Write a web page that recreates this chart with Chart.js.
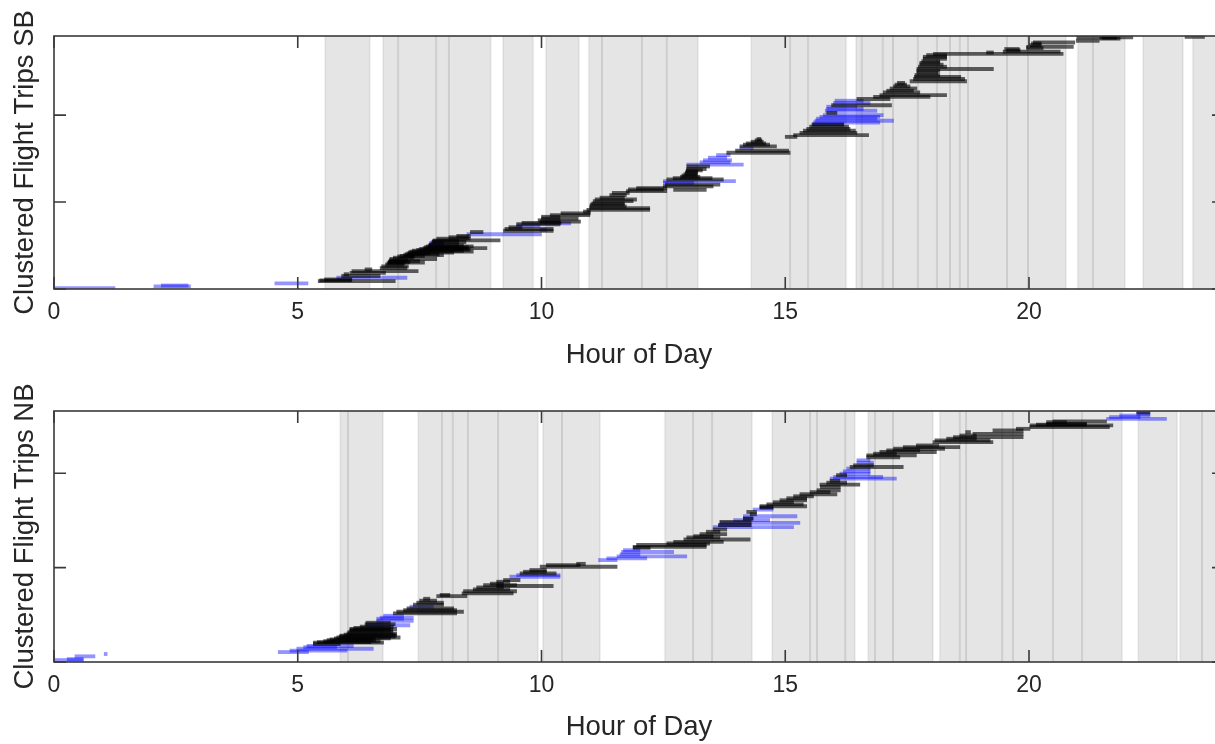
<!DOCTYPE html>
<html>
<head>
<meta charset="utf-8">
<script src="https://cdn.jsdelivr.net/npm/chart.js@4.4.0/dist/chart.umd.min.js"></script>
<style>
  html, body { margin: 0; padding: 0; background: #fff; overflow: hidden; width: 1215px; height: 744px; }
  canvas { position: absolute; left: 0; }
  #sbChart { top: 0; }
  #nbChart { top: 372px; }
</style>
</head>
<body>
<canvas id="sbChart" width="1232" height="372"></canvas>
<canvas id="nbChart" width="1232" height="372"></canvas>
<script>
// Tick values for both panels.
var xTicks = [0, 5, 10, 15, 20];
var sbYTicks = [0, 100, 200];
var nbYTicks = [0, 100, 200];

// Trip segments as [trip index, start hour, end hour].
var sbBlack = [
  [9, 5.42, 7.0], [10, 5.45, 6.1], [11, 5.55, 6.11], [15, 5.9, 6.69], [17, 5.95, 6.05],
  [18.5, 6.07, 6.8], [20.5, 6.11, 7.47], [22.5, 6.38, 6.52], [24, 6.69, 7.24], [26, 6.72, 7.27],
  [28, 6.8, 7.17], [29.5, 6.83, 7.2], [30.5, 6.85, 7.6], [31, 6.86, 7.3], [32, 6.87, 7.5], [33, 6.88, 7.25],
  [34.5, 6.89, 7.85], [36, 6.96, 7.37], [37.5, 7.05, 7.4], [38, 7.1, 7.6], [39, 7.17, 7.99], [40, 7.2, 7.9],
  [41, 7.24, 7.71], [42, 7.27, 8.2], [43, 7.3, 8.6], [44, 7.35, 8.4], [45, 7.44, 8.54], [46, 7.5, 8.5],
  [47, 7.57, 8.88], [48, 7.6, 8.5], [49, 7.64, 8.6], [50, 7.68, 8.4], [51, 7.7, 8.3], [54, 7.75, 8.45],
  [55, 7.76, 8.3], [56, 7.78, 9.15], [58, 7.85, 8.54], [59.5, 8.1, 8.5], [61, 8.26, 8.54], [65.5, 8.54, 8.8],
  [67, 9.22, 10.24], [69, 9.25, 10.24], [71, 9.33, 9.6], [74.5, 9.49, 10.38], [76, 9.6, 10.4],
  [77.5, 9.97, 10.8], [79, 9.93, 10.38], [81, 10.0, 10.75], [83, 10.0, 10.38], [85, 10.18, 10.99],
  [87, 10.4, 11.0],
  [89, 10.86, 11.0], [91, 10.93, 12.22], [93, 10.99, 12.22], [95, 10.99, 11.74], [97, 11.0, 11.7],
  [98.5, 11.03, 11.7], [101, 11.06, 11.88], [103, 11.1, 11.95], [105, 11.2, 11.7], [108, 11.4, 11.74],
  [110.5, 11.45, 11.8], [112.5, 11.74, 12.57], [114.5, 11.78, 12.5], [116, 11.95, 12.57],
  [114, 12.71, 13.38], [118, 12.5, 13.52], [120, 12.54, 13.66], [126, 12.57, 13.73], [127.5, 12.7, 13.5],
  [129, 12.85, 13.25], [130.5, 12.88, 13.2], [132, 12.92, 13.18], [133.5, 12.95, 13.2], [135, 12.96, 13.2],
  [136.5, 12.97, 13.3], [138, 12.98, 13.38], [141, 12.98, 13.45],
  [156.7, 13.8, 15.1], [159, 13.98, 15.07], [164, 14.07, 14.82], [166, 14.14, 14.68], [167.4, 14.2, 14.6],
  [169.3, 14.3, 14.55], [171, 14.38, 14.52], [172.5, 14.42, 14.5],
  [175, 15.0, 15.24], [177, 15.17, 16.71], [179.5, 15.3, 16.47], [182, 15.37, 16.44], [184, 15.44, 16.33],
  [186.6, 15.5, 16.3], [189, 15.55, 16.2], [202.5, 15.85, 16.06], [211.4, 15.95, 17.18], [218.5, 16.47, 17.15],
  [221, 16.81, 17.97], [223, 16.94, 18.31], [226, 17.01, 17.76], [228, 17.08, 17.63], [230.6, 17.15, 17.7],
  [233, 17.22, 17.56], [235, 17.25, 17.49], [237, 17.3, 17.45],
  [239, 17.56, 18.72], [241.6, 17.63, 18.68], [244, 17.65, 18.6], [246, 17.66, 18.17], [248.5, 17.7, 18.13],
  [251, 17.7, 18.17], [253, 17.7, 19.27], [255.6, 17.73, 18.31], [258, 17.76, 18.24], [260, 17.76, 18.17],
  [262, 17.8, 18.17], [264.8, 17.83, 18.31], [267, 17.83, 18.31], [269, 17.9, 18.31], [270.5, 18.04, 20.7],
  [272, 19.13, 19.27], [273, 19.47, 20.64], [274.5, 19.54, 19.82], [276, 19.5, 19.8], [277, 19.95, 20.29],
  [278.5, 19.95, 20.91], [280.5, 20.0, 20.25], [282.4, 20.05, 20.25], [283.5, 20.09, 20.94], [285.5, 20.97, 21.44],
  [288, 21.45, 21.87], [289, 21.5, 21.8], [289.5, 20.98, 22.13], [290, 23.2, 23.6]
];

var sbBlue = [
  [1, 0.0, 1.25], [3, 2.05, 2.8], [4, 2.2, 2.75], [6.5, 4.53, 5.21], [13, 5.8, 7.24],
  [52, 7.71, 8.0], [53, 7.71, 7.99], [63, 8.47, 10.0], [68, 9.97, 10.1], [73, 9.49, 9.97],
  [75.5, 9.97, 10.6], [122, 12.5, 13.12], [124, 12.5, 13.98], [143, 12.98, 14.14], [145.7, 13.25, 13.87],
  [148, 13.32, 13.9], [151, 13.42, 13.8], [154, 13.59, 13.87], [162, 14.07, 14.34],
  [189.5, 15.55, 16.2], [191.5, 15.58, 16.94], [193.5, 15.61, 17.22], [196, 15.64, 16.88], [198, 15.71, 16.94],
  [200, 15.78, 17.01], [205, 15.82, 16.88], [207, 15.85, 16.6], [209.6, 15.85, 16.47], [214, 15.99, 16.74],
  [216.5, 16.02, 16.6]
];

var nbBlack = [
  [19, 5.32, 5.87], [20.5, 5.32, 6.76], [21, 5.4, 6.5], [22, 5.53, 6.69], [23, 5.6, 6.6], [24, 5.66, 6.55],
  [25, 5.75, 6.9], [26, 5.8, 7.1], [27, 5.85, 7.0], [28, 5.87, 7.03], [29, 5.95, 7.0], [30.3, 6.01, 7.03],
  [31.5, 6.03, 6.95], [33, 6.07, 6.9], [34, 6.07, 6.95], [35, 6.07, 7.03], [36, 6.15, 6.9], [37.4, 6.28, 6.96],
  [40, 6.38, 7.0], [41.6, 6.4, 6.9], [51.5, 6.96, 8.26], [53.3, 7.03, 8.4], [55, 7.17, 8.26],
  [56.8, 7.24, 8.2], [60.7, 7.37, 7.99], [62.8, 7.44, 7.99], [65, 7.5, 7.85], [67, 7.58, 7.71],
  [69.8, 7.85, 8.47], [71, 7.92, 8.12], [72.7, 8.37, 9.42], [75, 8.4, 9.49], [77, 8.6, 9.35],
  [79, 8.67, 9.22], [80.5, 9.08, 10.24], [81.5, 8.81, 9.49], [83, 8.95, 9.22], [85, 9.08, 9.35],
  [86.8, 9.22, 9.56], [93.8, 9.56, 10.3], [95.6, 9.63, 10.1], [97.4, 9.76, 10.1], [100.9, 9.97, 11.55],
  [102.6, 10.1, 10.79], [104, 10.72, 10.9],
  [121, 11.88, 12.23], [122, 11.88, 13.38], [124, 11.95, 13.38], [125.6, 12.57, 13.45], [127.3, 12.71, 13.73],
  [129.8, 12.92, 14.28], [132, 12.98, 13.66], [133.3, 13.12, 13.52], [135.5, 13.25, 13.8], [138, 13.38, 13.66],
  [140.4, 13.52, 13.8], [145, 13.63, 14.3], [148.5, 13.66, 14.3], [152, 14.14, 14.34], [156.6, 14.28, 14.41],
  [159, 14.21, 14.41], [163.7, 14.48, 14.75], [165, 14.48, 15.44], [167, 14.62, 15.37], [169.3, 14.75, 15.17],
  [171.4, 14.89, 15.44], [173.5, 15.03, 15.44], [175.6, 15.17, 15.58], [177.8, 15.3, 16.06], [180, 15.51, 15.92],
  [182, 15.65, 16.13], [185.5, 15.72, 16.13], [188, 15.71, 16.53], [190, 15.85, 16.26], [192, 15.92, 16.12],
  [198, 16.05, 16.26], [206.6, 16.33, 17.42], [208.4, 16.4, 16.81], [217, 16.67, 17.35], [219, 16.67, 17.69],
  [220.7, 16.81, 17.28], [222.5, 16.94, 18.1], [224.2, 17.08, 17.76], [226, 17.22, 18.27], [227.7, 17.42, 18.58],
  [229.5, 17.69, 18.15], [233, 18.03, 19.26], [234.8, 18.07, 19.2], [236.6, 18.31, 18.92], [238.3, 18.45, 19.88],
  [240, 18.58, 18.92], [241.8, 18.85, 19.88], [243.6, 18.7, 18.8], [245.4, 19.26, 19.88], [247.1, 19.74, 20.02],
  [249, 20.02, 21.65], [250.7, 20.02, 21.72], [251.5, 20.15, 21.18], [252.4, 20.36, 21.18], [254.2, 20.36, 20.77],
  [255, 20.49, 21.59], [264.7, 22.21, 22.48]
];

var nbBlue = [
  [2, 0.0, 0.6], [3, 0.27, 0.6], [6, 0.43, 0.84], [8.5, 1.03, 1.09], [10.5, 4.6, 5.22],
  [12, 4.84, 6.01], [14, 4.98, 6.55], [15.7, 5.12, 5.8], [17, 5.19, 6.14], [39, 6.4, 7.3],
  [43.7, 6.62, 7.37], [45.8, 6.62, 7.17], [47, 6.69, 7.37], [49, 6.76, 7.17], [58.6, 7.3, 7.78],
  [90.3, 9.35, 10.38], [92, 9.49, 10.38], [108, 11.17, 11.55], [109.8, 11.34, 12.16], [112, 11.55, 12.98],
  [114, 11.61, 12.02], [116.6, 11.64, 12.71], [118.5, 11.68, 12.02], [143, 13.52, 15.17], [145, 13.63, 14.3],
  [147.4, 13.66, 15.3], [150.3, 13.94, 14.68], [152, 14.14, 14.34], [154.5, 14.14, 15.24], [161.5, 14.34, 14.75],
  [163.7, 14.48, 14.75], [194.4, 15.92, 17.28], [196, 15.99, 17.0], [199.6, 16.12, 16.74], [202, 16.19, 16.74],
  [205, 16.26, 16.74], [211.2, 16.47, 16.81], [213.7, 16.47, 16.74], [257.7, 21.59, 22.82], [259.5, 21.65, 22.28],
  [261.2, 21.86, 22.48], [263, 22.21, 22.48]
];

// Shaded time windows as [start hour, end hour].
var sbBands = [
  [5.56, 6.48], [6.75, 7.06], [7.06, 7.84], [7.84, 8.1], [8.1, 8.96], [9.21, 9.83], [10.09, 10.77],
  [10.97, 11.24], [11.24, 12.06], [12.06, 12.57], [12.57, 13.21], [14.3, 15.1], [15.1, 15.47], [15.47, 16.25],
  [16.45, 16.57], [16.57, 17.0], [17.0, 17.21], [17.21, 17.72], [17.72, 18.11], [18.11, 18.38], [18.38, 18.58],
  [18.58, 18.75], [18.75, 19.55], [19.55, 19.98], [19.98, 20.76], [21.0, 21.31], [21.31, 21.97],
  [22.34, 23.16], [23.36, 24]
];

var nbBands = [
  [5.87, 6.03], [6.03, 6.75], [7.47, 7.96], [7.96, 8.18], [8.18, 8.49], [8.49, 9.11], [9.11, 9.93],
  [10.03, 10.42], [10.42, 11.2], [12.53, 13.11], [13.11, 13.5], [13.5, 14.32], [14.73, 15.51], [15.51, 15.65],
  [15.65, 16.23], [16.23, 16.43], [16.7, 16.84], [16.84, 17.21], [17.21, 18.03], [18.17, 18.58], [18.58, 18.71],
  [18.71, 19.45], [19.45, 19.67], [19.67, 20.49], [20.49, 21.09], [21.09, 21.91], [22.24, 23.04],
  [23.1, 23.55], [23.55, 24]
];

Chart.defaults.font.family = "'Liberation Sans', Arial, Helvetica, sans-serif";
Chart.defaults.color = "#262626";

// Draws the shaded windows under the bars, then the box and inward ticks on top.
var matlabAxes = {
  id: "matlabAxes",
  beforeDatasetsDraw: function (chart, args, opts) {
    var ctx = chart.ctx;
    var a = chart.chartArea;
    var x = chart.scales.x;
    ctx.save();
    ctx.beginPath();
    ctx.rect(a.left, a.top, a.right - a.left, a.bottom - a.top);
    ctx.clip();
    ctx.fillStyle = "#e5e5e5";
    opts.bands.forEach(function (b) {
      var x0 = x.getPixelForValue(b[0]);
      var x1 = x.getPixelForValue(b[1]);
      ctx.fillRect(x0, a.top, x1 - x0, a.bottom - a.top);
    });
    ctx.strokeStyle = "rgba(0,0,0,0.055)";
    ctx.lineWidth = 2;
    opts.bands.forEach(function (b) {
      [b[0], b[1]].forEach(function (v) {
        var px = x.getPixelForValue(v);
        ctx.beginPath();
        ctx.moveTo(px, a.top);
        ctx.lineTo(px, a.bottom);
        ctx.stroke();
      });
    });
    ctx.restore();
  },
  afterDatasetsDraw: function (chart) {
    var ctx = chart.ctx;
    var a = chart.chartArea;
    var x = chart.scales.x;
    var y = chart.scales.y;
    var len = 12;
    ctx.save();
    ctx.strokeStyle = "#3a3a3a";
    ctx.lineWidth = 1.6;
    ctx.strokeRect(a.left, a.top, a.right - a.left, a.bottom - a.top);
    ctx.beginPath();
    x.ticks.forEach(function (t) {
      var px = x.getPixelForValue(t.value);
      ctx.moveTo(px, a.bottom);
      ctx.lineTo(px, a.bottom - len);
      ctx.moveTo(px, a.top);
      ctx.lineTo(px, a.top + len);
    });
    y.ticks.forEach(function (t) {
      var py = y.getPixelForValue(t.value);
      ctx.moveTo(a.left, py);
      ctx.lineTo(a.left + len, py);
      ctx.moveTo(a.right, py);
      ctx.lineTo(a.right - len, py);
    });
    ctx.stroke();
    ctx.restore();
  }
};

// Turns [trip, start, end] rows into floating horizontal bars.
function toBars(rows) {
  return rows.map(function (r) {
    return { y: r[0], x: [r[1], r[2]] };
  });
}

function makeChart(canvasId, label, black, blue, bands, yTicks, yMax, padTop, xHeight) {
  return new Chart(document.getElementById(canvasId), {
    type: "bar",
    data: {
      datasets: [
        { label: "black", data: toBars(black), backgroundColor: "rgba(0,0,0,0.62)" },
        { label: "blue", data: toBars(blue), backgroundColor: "rgba(0,0,255,0.42)" }
      ]
    },
    options: {
      indexAxis: "y",
      responsive: false,
      animation: false,
      layout: { padding: { top: padTop, right: 8, left: 0, bottom: 0 } },
      datasets: { bar: { barThickness: 3.2, grouped: false, borderWidth: 0 } },
      plugins: {
        legend: { display: false },
        tooltip: { enabled: false },
        matlabAxes: { bands: bands }
      },
      scales: {
        x: {
          type: "linear",
          min: 0,
          max: 24,
          grid: { display: false },
          border: { display: false },
          ticks: { font: { size: 23 }, padding: 2, maxRotation: 0 },
          afterBuildTicks: function (s) {
            s.ticks = xTicks.map(function (v) { return { value: v }; });
          },
          afterFit: function (s) { s.height = xHeight; },
          title: { display: true, text: "Hour of Day", font: { size: 27.5 }, padding: { top: 0, bottom: 0.5 } }
        },
        y: {
          type: "linear",
          min: 0,
          max: yMax,
          offset: false,
          grid: { display: false },
          border: { display: false },
          ticks: { display: false },
          afterBuildTicks: function (s) {
            s.ticks = yTicks.map(function (v) { return { value: v }; });
          },
          afterFit: function (s) { s.width = 54; },
          title: { display: true, text: label, font: { size: 27.5 }, padding: { top: 9, bottom: 0 } }
        }
      }
    },
    plugins: [matlabAxes]
  });
}

var sbChart = makeChart("sbChart", "Clustered Flight Trips SB", sbBlack, sbBlue, sbBands, sbYTicks, 291, 36, 83);
var nbChart = makeChart("nbChart", "Clustered Flight Trips NB", nbBlack, nbBlue, nbBands, nbYTicks, 266, 39, 82);
</script>
</body>
</html>
